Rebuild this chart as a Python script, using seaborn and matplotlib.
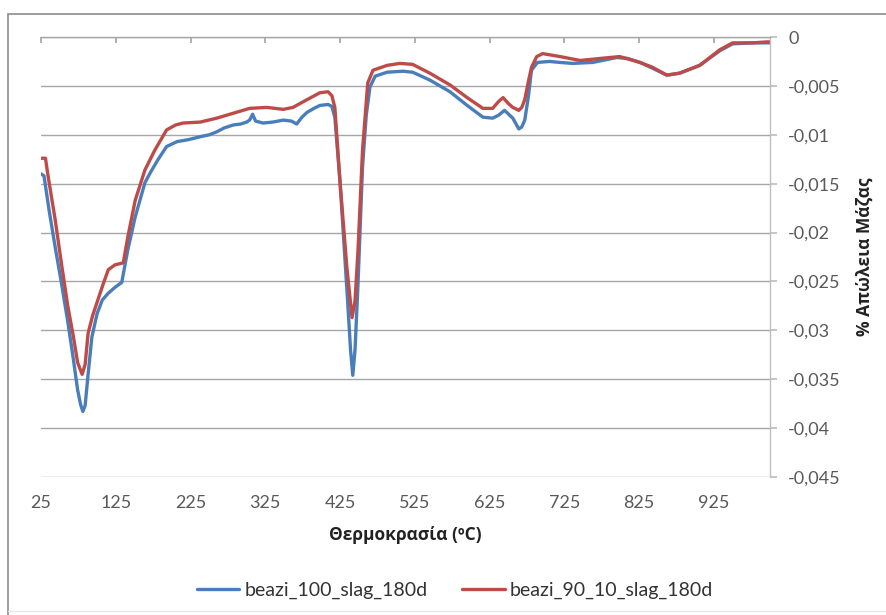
import numpy as np
import pandas as pd
import matplotlib
matplotlib.use("Agg")
import matplotlib.pyplot as plt
from matplotlib.patches import Rectangle
from matplotlib.ticker import FuncFormatter, FixedLocator
import seaborn as sns

# Temperature (°C) and mass-loss derivative for the two mixes
temp_100 = [25, 29, 36, 44, 52, 61, 68, 74, 78, 81, 84, 88, 93, 100, 107, 115, 124, 133,
            141, 151, 164, 171, 181, 193, 207, 222, 238, 250, 260, 270, 282, 292, 300,
            304, 308, 312, 322, 335, 349, 360, 367, 374, 381, 390, 398, 409, 414, 418,
            425, 435, 439, 442, 445, 449, 455, 460, 465, 472, 488, 509, 522, 545, 572,
            595, 616, 629, 637, 645, 656, 664, 668, 672, 677, 681, 689, 705, 719, 736,
            763, 795, 810, 826, 843, 862, 879, 906, 933, 950, 977, 1000]
loss_100 = [-0.0140, -0.0142, -0.0178, -0.0215, -0.0250, -0.0292, -0.0328, -0.0361,
            -0.0376, -0.0383, -0.0377, -0.0345, -0.0307, -0.0283, -0.0269, -0.0262,
            -0.0256, -0.0251, -0.0218, -0.0184, -0.0149, -0.0139, -0.0126, -0.0112,
            -0.0107, -0.0105, -0.0102, -0.0100, -0.0097, -0.0093, -0.0090, -0.0089,
            -0.0087, -0.0085, -0.0079, -0.0086, -0.0088, -0.0087, -0.0085, -0.0086,
            -0.0089, -0.0082, -0.0077, -0.0073, -0.0070, -0.0069, -0.0071, -0.0082,
            -0.0149, -0.0269, -0.0320, -0.0346, -0.0320, -0.0252, -0.0133, -0.0080,
            -0.0051, -0.0040, -0.0036, -0.0035, -0.0036, -0.0044, -0.0056, -0.0070,
            -0.0082, -0.0083, -0.0080, -0.0075, -0.0083, -0.0094, -0.0092, -0.0085,
            -0.0060, -0.0034, -0.0026, -0.0025, -0.0026, -0.0027, -0.0026, -0.0021,
            -0.0022, -0.0026, -0.0032, -0.0039, -0.0037, -0.0029, -0.0014, -0.0007,
            -0.0006, -0.0006]

temp_90_10 = [25, 31, 34, 44, 52, 61, 68, 74, 80, 84, 88, 94, 101, 108, 115, 124, 135,
              141, 151, 164, 177, 193, 205, 215, 238, 260, 282, 304, 327, 349, 362, 381,
              398, 409, 414, 418, 425, 434, 441, 445, 449, 455, 462, 469, 488, 505, 522,
              545, 572, 595, 616, 629, 637, 643, 650, 656, 664, 668, 672, 677, 681, 688,
              696, 719, 746, 772, 799, 826, 843, 862, 879, 906, 933, 950, 977, 996, 1000]
loss_90_10 = [-0.0124, -0.0124, -0.0140, -0.0187, -0.0230, -0.0276, -0.0305, -0.0333,
              -0.0345, -0.0335, -0.0303, -0.0285, -0.0269, -0.0253, -0.0238, -0.0233,
              -0.0231, -0.0205, -0.0167, -0.0136, -0.0116, -0.0095, -0.0090, -0.0088,
              -0.0087, -0.0083, -0.0078, -0.0073, -0.0072, -0.0074, -0.0072, -0.0064,
              -0.0057, -0.0056, -0.0060, -0.0072, -0.0149, -0.0235, -0.0287, -0.0270,
              -0.0218, -0.0116, -0.0047, -0.0034, -0.0029, -0.0027, -0.0028, -0.0037,
              -0.0049, -0.0062, -0.0073, -0.0073, -0.0066, -0.0062, -0.0068, -0.0072,
              -0.0075, -0.0072, -0.0064, -0.0045, -0.0031, -0.0020, -0.0017, -0.0020,
              -0.0024, -0.0022, -0.0020, -0.0026, -0.0031, -0.0039, -0.0037, -0.0029,
              -0.0013, -0.0006, -0.0006, -0.0005, -0.0005]

series_names = ["beazi_100_slag_180d", "beazi_90_10_slag_180d"]
series_colors = ["#4A7EBB", "#BE4B48"]
x_ticks = [25, 125, 225, 325, 425, 525, 625, 725, 825, 925]
y_ticks = [0, -0.005, -0.01, -0.015, -0.02, -0.025, -0.03, -0.035, -0.04, -0.045]

df = pd.concat([
    pd.DataFrame({"T": temp_100, "loss": loss_100, "series": series_names[0]}),
    pd.DataFrame({"T": temp_90_10, "loss": loss_90_10, "series": series_names[1]}),
], ignore_index=True)

sns.set_theme(style="white")
plt.rcParams["font.family"] = ["Lato", "DejaVu Sans"]
title_font = ["Open Sans", "DejaVu Sans"]

fig = plt.figure(figsize=(8.86, 6.15), dpi=100)
ax = fig.add_axes([41 / 886, 1 - 477 / 615, (770 - 41) / 886, (477 - 37) / 615])

sns.lineplot(data=df, x="T", y="loss", hue="series", hue_order=series_names,
             palette=series_colors, linewidth=2.4, ax=ax, legend=False,
             estimator=None, sort=True)

ax.set_xlim(25, 1000)
ax.set_ylim(-0.045, 0)
ax.xaxis.set_major_locator(FixedLocator(x_ticks))
ax.yaxis.set_major_locator(FixedLocator(y_ticks))
ax.yaxis.set_major_formatter(FuncFormatter(lambda v, p: f"{v:g}".replace(".", ",")))

# Value axis on the right, category axis crossing at zero (top)
ax.yaxis.tick_right()
ax.grid(axis="y", color="#a6a6a6", linewidth=1)
ax.grid(axis="x", visible=False)
for side in ["left", "bottom"]:
    ax.spines[side].set_visible(False)
ax.spines["right"].set_color("#bfbfbf")
ax.spines["right"].set_linewidth(1)
ax.spines["top"].set_color("#a6a6a6")
ax.spines["top"].set_linewidth(1)

ax.tick_params(axis="x", which="major", bottom=False, top=True, labelbottom=True,
               labeltop=False, direction="in", length=4, color="#a6a6a6",
               labelsize=13, labelcolor="#595959", pad=13)
ax.tick_params(axis="y", which="major", right=True, left=False, labelright=True,
               labelleft=False, direction="out", length=5, color="#bfbfbf",
               labelsize=13, labelcolor="#595959", pad=8)

ax.set_xlabel("Θερμοκρασία (ºC)", fontsize=12.5, fontweight="bold", color="#222222",
              family=title_font)
ax.xaxis.label.set_va("center")
ax.xaxis.set_label_coords(0.5, -0.132)

ax.yaxis.set_label_position("right")
ax.set_ylabel("% Απώλεια Μάζας", fontsize=12.5, fontweight="bold", color="#222222",
              rotation=90, family=title_font)
ax.yaxis.label.set_va("center")
ax.yaxis.set_label_coords(1.130, 0.5)

handles = [plt.Line2D([], [], color=c, linewidth=2.4) for c in series_colors]
fig.legend(handles, series_names, loc="center", bbox_to_anchor=(455 / 886, 1 - 590 / 615),
           ncol=2, frameon=False, fontsize=14, handlelength=2.2, handletextpad=0.25,
           columnspacing=1.8, labelcolor="#333333")

# Chart-area border
fig.add_artist(Rectangle((8 / 886, -0.1), 2, 1 - 14 / 615 + 0.1, fill=False,
                         edgecolor="#8c8c8c", linewidth=1.2, transform=fig.transFigure))
fig.add_artist(plt.Line2D([8 / 886, 1], [1 - 611 / 615] * 2, color="#e6e6e6",
                          linewidth=1, transform=fig.transFigure))

fig.savefig("out.png", dpi=100)
